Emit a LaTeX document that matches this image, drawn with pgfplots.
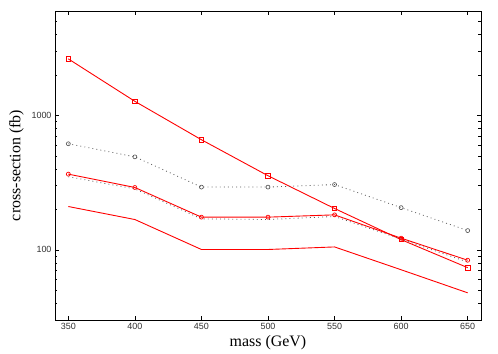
\documentclass[border=0pt]{standalone}
\usepackage{fontspec}
\setmainfont{Liberation Serif}
\newfontfamily\ticksans{Liberation Sans}
\usepackage{pgfplots}
\pgfplotsset{compat=1.18}

\begin{document}
\begin{tikzpicture}
\begin{axis}[
  scale only axis,
  width=426bp, height=309bp,
  ymode=log,
  xmin=340, xmax=660, ymin=30, ymax=6000,
  xtick={350,400,...,650},
  ytick={100,1000},
  yticklabels={100,1000},
  minor ytick={40,50,60,70,80,90,200,300,400,500,600,700,800,900,2000,3000,4000,5000},
  tick align=inside,
  major tick length=4bp, minor tick length=2.5bp,
  tick style={black, line width=0.5pt},
  axis line style={black, line width=0.8pt},
  ticklabel style={font=\ticksans\fontsize{9}{10}\selectfont, text=black!80},
  /pgf/number format/assume math mode=true,
  /pgf/number format/1000 sep={},
  xlabel={mass (GeV)},
  ylabel={cross-section (fb)},
  label style={font=\fontsize{16}{18}\selectfont},
  xlabel style={yshift=1bp},
  ylabel style={yshift=1bp},
]
  % red, squares
  \addplot[red, line width=0.9pt, mark=square, mark size=2.2pt, mark options={solid, red, line width=0.7pt}] coordinates {
    (350,2640) (400,1275) (450,660) (500,356) (550,203) (600,119) (650,73.6)
  };
  % grey dotted, circles
  \addplot[black!65, line width=0.8pt, dash pattern=on 0.9pt off 3.2pt, mark=o, mark size=2pt, mark options={solid, black!70, line width=0.6pt}] coordinates {
    (350,616) (400,492) (450,293) (500,293) (550,306) (600,206) (650,139)
  };
  % red, circles
  \addplot[red, line width=0.9pt, mark=o, mark size=2pt, mark options={solid, red, line width=0.7pt}] coordinates {
    (350,366) (400,291) (450,175) (500,175) (550,182) (600,122) (650,83.6)
  };
  % grey dotted, no marks
  \addplot[black!65, line width=0.8pt, dash pattern=on 0.9pt off 3.2pt] coordinates {
    (350,350) (400,284) (450,170) (500,168) (550,177) (600,120) (650,81)
  };
  % red, no marks
  \addplot[red, line width=0.9pt] coordinates {
    (350,210) (400,168) (450,100.5) (500,100.5) (550,105) (600,71) (650,47.8)
  };
\end{axis}
\path (current axis.south west) ++(-55bp,-29bp) rectangle ++(498bp,349bp);
\end{tikzpicture}
\end{document}
